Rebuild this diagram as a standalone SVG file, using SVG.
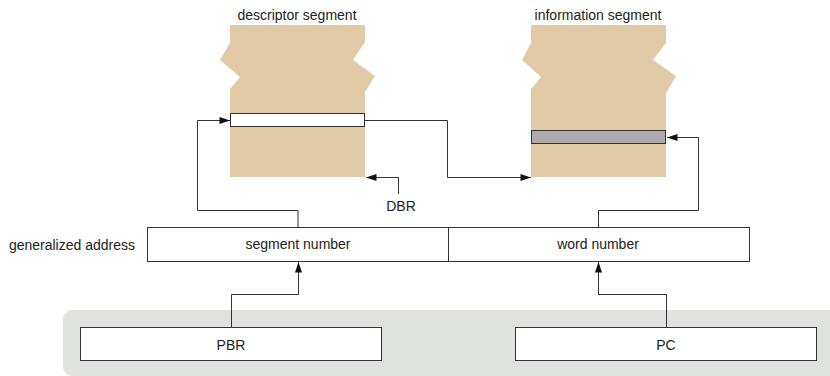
<svg xmlns="http://www.w3.org/2000/svg" width="830" height="376" viewBox="0 0 830 376">
<style>
text{font-family:"Liberation Sans",Arial,sans-serif;font-size:14px;fill:#222}
.box{fill:#fff;stroke:#333;stroke-width:1}
.seg{fill:#e0cba6}
.c{fill:none;stroke:#333;stroke-width:1}
</style>
<defs>
<marker id="ah" viewBox="0 0 12 8" refX="12" refY="4" markerWidth="12" markerHeight="7" markerUnits="userSpaceOnUse" orient="auto">
<path d="M0,0 L12,4 L0,8 z" fill="#111"/>
</marker>
</defs>
<rect id="bg" x="63" y="310" width="780" height="66" rx="9" fill="#dfe2df"/>
<g id="descriptor-segment">
<path class="seg" d="M230,25 L365,25 L365,42 L353,60 L375,76 L365,92 L365,177 L230,177 L230,89 L240,77 L220,60 L230,43 Z"/>
<rect x="230.5" y="113.5" width="134" height="13" class="box"/>
<text x="297" y="20" text-anchor="middle">descriptor segment</text>
</g>
<g id="information-segment">
<path class="seg" d="M531,25 L666,25 L666,43 L653,60 L676,76 L666,93 L666,177 L531,177 L531,89 L541,77 L522,60 L531,43 Z"/>
<rect x="531.5" y="130.5" width="134" height="13" fill="#aeaaad" stroke="#333"/>
<text x="598" y="20" text-anchor="middle">information segment</text>
</g>
<g id="dbr">
<text x="401" y="211" text-anchor="middle">DBR</text>
</g>
<g id="generalized-address">
<text x="135" y="250" text-anchor="end">generalized address</text>
<rect x="147.5" y="227.5" width="301" height="34" class="box"/>
<text x="298" y="249" text-anchor="middle">segment number</text>
<rect x="448.5" y="227.5" width="301" height="34" class="box"/>
<text x="598" y="249" text-anchor="middle">word number</text>
</g>
<g id="pbr">
<rect x="80.5" y="327.5" width="301" height="33" class="box"/>
<text x="231" y="350" text-anchor="middle">PBR</text>
</g>
<g id="pc">
<rect x="515.5" y="327.5" width="301" height="33" class="box"/>
<text x="666" y="350" text-anchor="middle">PC</text>
</g>
<g id="connectors">
<path class="c" d="M298,227 V210.5 H197.5 V120.5 H230" marker-end="url(#ah)"/>
<path class="c" d="M365,120.5 H447.5 V177.5 H531" marker-end="url(#ah)"/>
<path class="c" d="M398.5,194 V177.5 H366" marker-end="url(#ah)"/>
<path class="c" d="M598.5,227 V210.5 H698.5 V137.5 H667" marker-end="url(#ah)"/>
<path class="c" d="M231.5,327 V294.5 H298.5 V262" marker-end="url(#ah)"/>
<path class="c" d="M666.5,327 V294.5 H598.5 V262" marker-end="url(#ah)"/>
</g>
</svg>
